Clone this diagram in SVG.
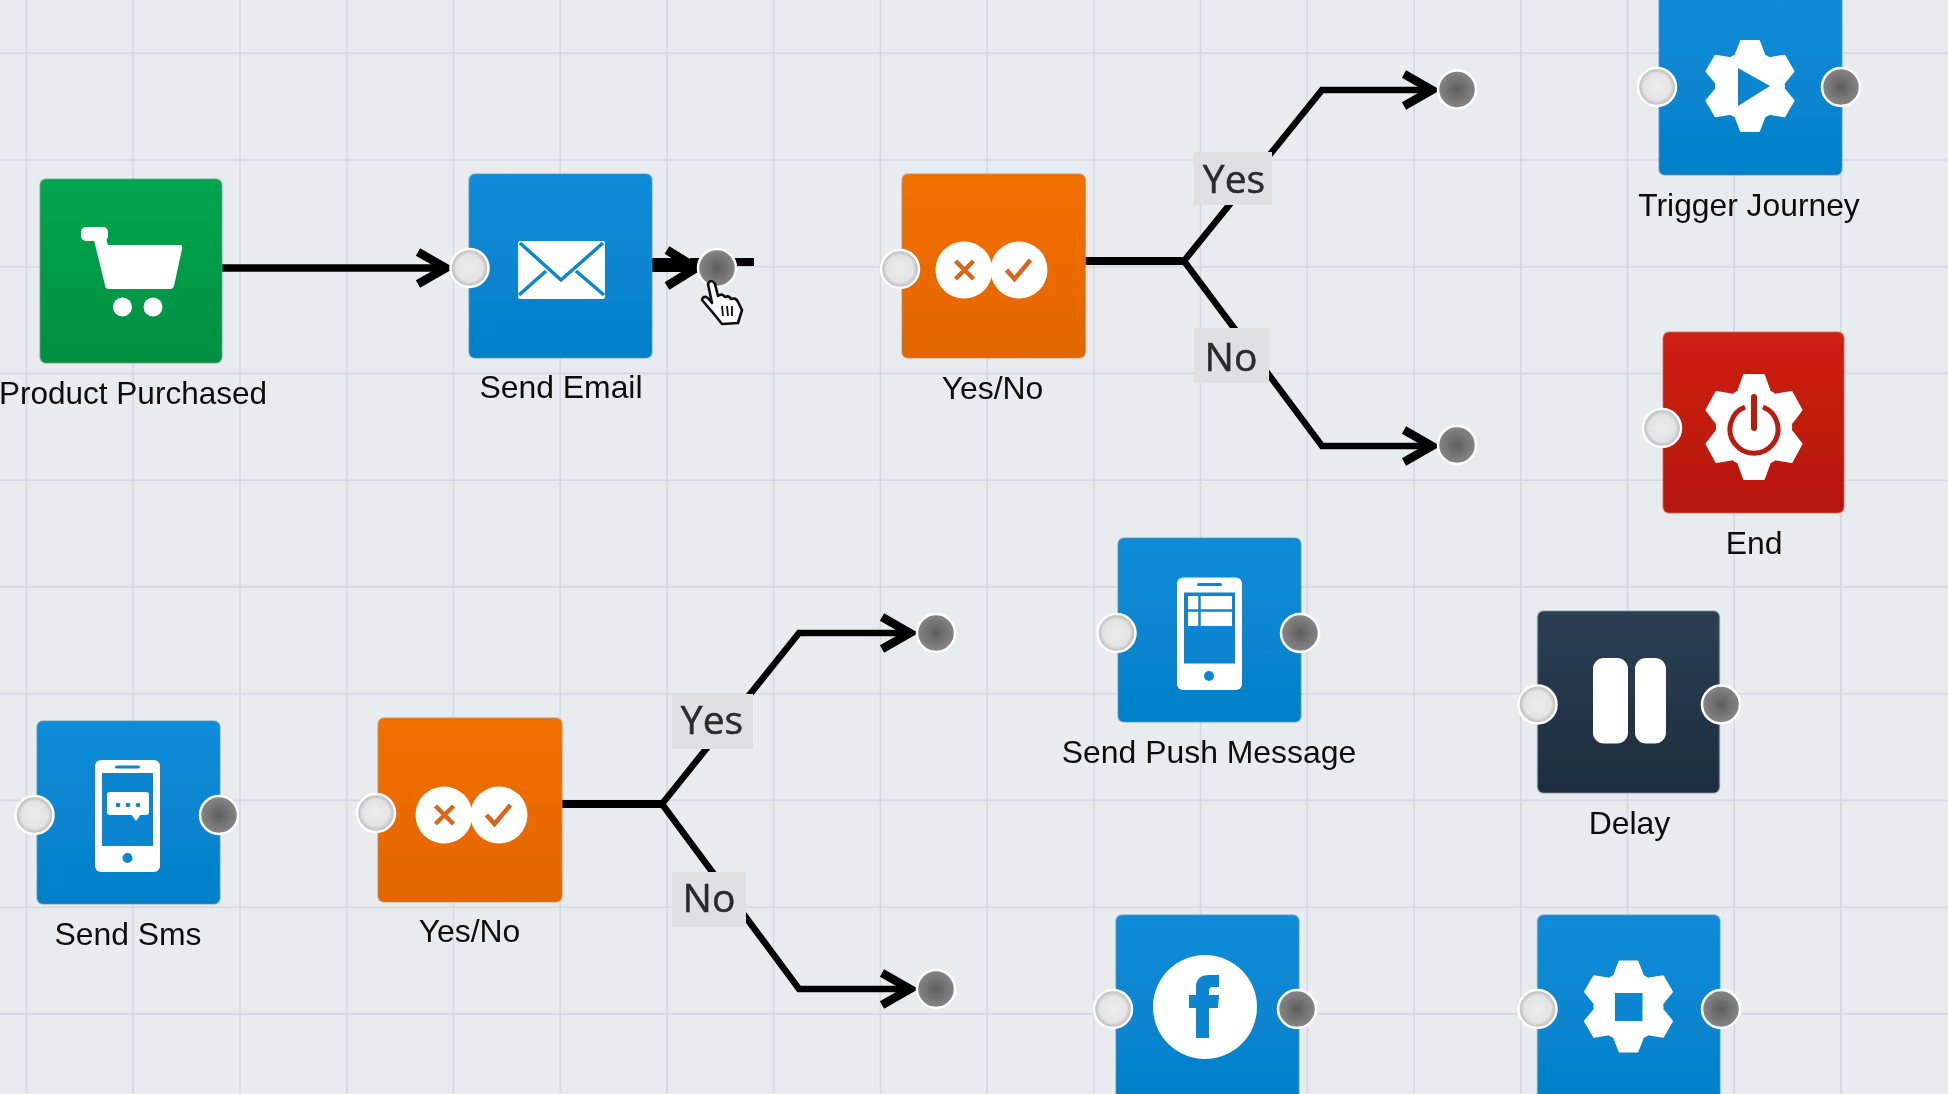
<svg xmlns="http://www.w3.org/2000/svg" xmlns:xlink="http://www.w3.org/1999/xlink" width="1948" height="1094" viewBox="0 0 1948 1094">
<style>
.grid line{stroke:#d6d7e0;stroke-width:1.6}
.card{stroke-width:1.5;stroke-opacity:.55}
.blue{fill:url(#gBlue);stroke:#5c92b8}
.green{fill:url(#gGreen);stroke:#6aa884}
.orange{fill:url(#gOrange);stroke:#b98a66}
.red{fill:url(#gRed);stroke:#d06a60}
.navy{fill:url(#gNavy);stroke:#7c8a99}
.in{fill:url(#gIn);stroke:#fff;stroke-width:2.5}
.out{fill:url(#gOut);stroke:#fff;stroke-width:2.5}
.lbl{font-family:"Liberation Sans",Arial,sans-serif;font-size:31.9px;fill:#0c0c0c;text-anchor:middle}
.tag{font-family:"Open Sans","Noto Sans",sans-serif;font-size:39px;fill:#2c2c2c;stroke:#2c2c2c;stroke-width:.5;text-anchor:middle}
.tagbox{fill:#dfe0e1}
.wire{fill:none;stroke:#050505;stroke-width:6.5;stroke-linejoin:miter}
.w{fill:#fff}
</style>
<defs>
<filter id="soft" x="0" y="0" width="100%" height="100%"><feGaussianBlur stdDeviation="0.6"/></filter>
<linearGradient id="gBlue" x1="0" y1="0" x2="0" y2="1"><stop offset="0" stop-color="#0a8cd9"/><stop offset="1" stop-color="#0580c8"/></linearGradient>
<linearGradient id="gGreen" x1="0" y1="0" x2="0" y2="1"><stop offset="0" stop-color="#05a64e"/><stop offset="1" stop-color="#019041"/></linearGradient>
<linearGradient id="gOrange" x1="0" y1="0" x2="0" y2="1"><stop offset="0" stop-color="#f37000"/><stop offset="1" stop-color="#e26600"/></linearGradient>
<linearGradient id="gRed" x1="0" y1="0" x2="0" y2="1"><stop offset="0" stop-color="#cf2012"/><stop offset="1" stop-color="#b5170f"/></linearGradient>
<linearGradient id="gNavy" x1="0" y1="0" x2="0" y2="1"><stop offset="0" stop-color="#2b3f54"/><stop offset="1" stop-color="#1d2e3e"/></linearGradient>
<radialGradient id="gIn"><stop offset="0" stop-color="#ececec"/><stop offset=".7" stop-color="#e4e4e4"/><stop offset="1" stop-color="#b4b4b4"/></radialGradient>
<radialGradient id="gOut"><stop offset="0" stop-color="#5e5e5e"/><stop offset="1" stop-color="#878787"/></radialGradient>
<marker id="arrow" markerUnits="userSpaceOnUse" markerWidth="44" markerHeight="48" viewBox="-36 -24 44 48" refX="0" refY="0" orient="auto">
<path d="M-29,-16 L-1,0 L-29,16" fill="none" stroke="#050505" stroke-width="8.5"/>
</marker>
<path id="tooth" d="M-14,-32 L-9,-45 L9,-45 L14,-32 Z" fill="#fff" stroke="#fff" stroke-width="2" stroke-linejoin="round"/>
<g id="gear">
<circle r="35" fill="#fff"/>
<use href="#tooth"/><use href="#tooth" transform="rotate(60)"/><use href="#tooth" transform="rotate(120)"/>
<use href="#tooth" transform="rotate(180)"/><use href="#tooth" transform="rotate(240)"/><use href="#tooth" transform="rotate(300)"/>
</g>
<g id="yesno">
<circle cx="-27.5" r="28.5" fill="#fff"/><circle cx="27.5" r="28.5" fill="#fff"/>
<path d="M-36,-9 L-18,9 M-18,-9 L-36,9" fill="none" stroke="#d9661a" stroke-width="4.5"/>
<path d="M15,0 L23,9 L39,-10" fill="none" stroke="#d9661a" stroke-width="4.5"/>
</g>
</defs>
<rect width="1948" height="1094" fill="#e9ecee"/>
<g filter="url(#soft)">
<g class="grid">
<line x1="26.5" y1="0" x2="26.5" y2="1094"/><line x1="133.2" y1="0" x2="133.2" y2="1094"/><line x1="240" y1="0" x2="240" y2="1094"/><line x1="346.7" y1="0" x2="346.7" y2="1094"/><line x1="453.4" y1="0" x2="453.4" y2="1094"/><line x1="560.2" y1="0" x2="560.2" y2="1094"/><line x1="666.9" y1="0" x2="666.9" y2="1094"/><line x1="773.6" y1="0" x2="773.6" y2="1094"/><line x1="880.4" y1="0" x2="880.4" y2="1094"/><line x1="987.1" y1="0" x2="987.1" y2="1094"/><line x1="1093.8" y1="0" x2="1093.8" y2="1094"/><line x1="1200.5" y1="0" x2="1200.5" y2="1094"/><line x1="1307.3" y1="0" x2="1307.3" y2="1094"/><line x1="1414" y1="0" x2="1414" y2="1094"/><line x1="1520.7" y1="0" x2="1520.7" y2="1094"/><line x1="1627.5" y1="0" x2="1627.5" y2="1094"/><line x1="1734.2" y1="0" x2="1734.2" y2="1094"/><line x1="1840.9" y1="0" x2="1840.9" y2="1094"/>
<line x1="0" y1="53.2" x2="1948" y2="53.2"/><line x1="0" y1="160" x2="1948" y2="160"/><line x1="0" y1="266.7" x2="1948" y2="266.7"/><line x1="0" y1="373.4" x2="1948" y2="373.4"/><line x1="0" y1="480.2" x2="1948" y2="480.2"/><line x1="0" y1="586.9" x2="1948" y2="586.9"/><line x1="0" y1="693.7" x2="1948" y2="693.7"/><line x1="0" y1="800.4" x2="1948" y2="800.4"/><line x1="0" y1="907.2" x2="1948" y2="907.2"/><line x1="0" y1="1013.9" x2="1948" y2="1013.9"/>
</g>
<g id="connectors">
<path class="wire" style="stroke-width:7.5" d="M222,268 L447,268" marker-end="url(#arrow)"/>
<path class="wire" style="stroke-width:8" d="M690,262 L754,262"/>
<path class="wire" style="stroke-width:14" d="M652,265 L688,265"/>
<path d="M667,250 L696,268 L667,286" fill="none" stroke="#050505" stroke-width="9"/>
<path class="wire" style="stroke-width:8" d="M1085,261 L1184,261"/>
<path class="wire" d="M1184,261 L1322,90 L1433,90" marker-end="url(#arrow)"/>
<path class="wire" d="M1184,261 L1322,446 L1433,446" marker-end="url(#arrow)"/>
<path class="wire" style="stroke-width:8" d="M562,804 L662,804"/>
<path class="wire" d="M662,804 L799,633 L911,633" marker-end="url(#arrow)"/>
<path class="wire" d="M662,804 L799,989 L911,989" marker-end="url(#arrow)"/>
<g id="tag-yes-1"><rect class="tagbox" x="1194" y="152" width="78" height="53"/><text class="tag" x="1234" y="193">Yes</text></g>
<g id="tag-no-1"><rect class="tagbox" x="1194" y="328" width="75" height="55"/><text class="tag" x="1231" y="371">No</text></g>
<g id="tag-yes-2"><rect class="tagbox" x="672" y="694" width="81" height="55"/><text class="tag" x="712" y="734">Yes</text></g>
<g id="tag-no-2"><rect class="tagbox" x="672" y="872" width="74" height="55"/><text class="tag" x="709" y="912">No</text></g>
</g>
<g id="product-purchased">
<rect class="card green" x="40" y="179" width="182" height="184" rx="6"/>
<rect class="w" x="81" y="227" width="27" height="14" rx="5"/>
<path class="w" d="M92,232 L104,232 L108,245 L180,245 Q183,245 182,249 L174,286 Q173,289 170,289 L109,289 Q105,289 105,285 Z"/>
<circle class="w" cx="122.5" cy="307" r="9.5"/><circle class="w" cx="153" cy="307" r="9.5"/>
<text class="lbl" x="133" y="404" style="font-size:31.500px">Product Purchased</text>
</g>
<g id="send-email">
<rect class="card blue" x="469" y="174" width="183" height="184" rx="6"/>
<rect class="w" x="518" y="241" width="87" height="58" rx="2"/>
<path d="M520,243 L561,280 L603,243 M519,295 L546,271 M604,295 L576,271" fill="none" stroke="#0886d2" stroke-width="3.5"/>
<circle class="in" cx="469.5" cy="268" r="19"/>
<circle class="out" cx="717" cy="268" r="19"/>
<text class="lbl" x="561" y="398">Send Email</text>
</g>
<g id="cursor" transform="translate(0,-2)">
<path d="M708,286 Q711,280 715,286 L718,298 Q722,295 725,299 Q729,297 731,301 Q736,299 738,304 L742,312 L738,325 L722,326 L714,316 L702,302 Q703,297 708,300 L712,305 Z" fill="#fff" stroke="#111" stroke-width="2.6" stroke-linejoin="round"/>
<path d="M722,308 L723,318 M727,308 L728,318 M732,308 L732,318" stroke="#111" stroke-width="1.8" fill="none"/>
</g>
<g id="yes-no-1">
<rect class="card orange" x="902" y="174" width="183.500" height="184" rx="6"/>
<use href="#yesno" x="991.500" y="270"/>
<circle class="in" cx="900" cy="269" r="19"/>
<circle class="out" cx="1457" cy="89.500" r="19"/>
<circle class="out" cx="1457" cy="445" r="19"/>
<text class="lbl" x="992.500" y="399">Yes/No</text>
</g>
<g id="trigger-journey">
<rect class="card blue" x="1659" y="-9" width="183" height="184" rx="6"/>
<use href="#gear" x="1750" y="86"/>
<path d="M1738,68 L1770,86 L1738,106 Z" fill="#0886d2"/>
<circle class="in" cx="1657" cy="87" r="19"/>
<circle class="out" cx="1841" cy="87" r="19"/>
<text class="lbl" x="1749" y="216" style="font-size:31.800px">Trigger Journey</text>
</g>
<g id="end">
<rect class="card red" x="1663" y="332" width="181" height="181" rx="6"/>
<use href="#gear" transform="translate(1754,427) scale(1.09,1.15)"/>
<path d="M1745,407 A24,24 0 1 0 1763,407" fill="none" stroke="#b81a10" stroke-width="5"/>
<path d="M1754,397 L1754,428" stroke="#b81a10" stroke-width="6" stroke-linecap="round"/>
<circle class="in" cx="1662" cy="428" r="19"/>
<text class="lbl" x="1754" y="554">End</text>
</g>
<g id="send-push-message">
<rect class="card blue" x="1118" y="538" width="183" height="184" rx="6"/>
<rect class="w" x="1177" y="577.500" width="65" height="112.500" rx="6"/>
<rect x="1184" y="592.500" width="51" height="71" fill="#0886d2"/>
<rect class="w" x="1188" y="596" width="44" height="30"/>
<path d="M1199.500,596 L1199.500,626 M1188,610.500 L1232,610.500" stroke="#0886d2" stroke-width="2.500"/>
<rect x="1197" y="583" width="25" height="3" rx="1.500" fill="#0886d2"/>
<circle cx="1209" cy="676" r="5" fill="#0886d2"/>
<circle class="in" cx="1116.500" cy="633" r="19"/>
<circle class="out" cx="1300" cy="633" r="19"/>
<text class="lbl" x="1209" y="763">Send Push Message</text>
</g>
<g id="delay">
<rect class="card navy" x="1537.500" y="611" width="182" height="182" rx="6"/>
<rect class="w" x="1593" y="658" width="35" height="85.500" rx="11"/>
<rect class="w" x="1635" y="658" width="31" height="85.500" rx="11"/>
<circle class="in" cx="1537.500" cy="704.500" r="19"/>
<circle class="out" cx="1721" cy="704.500" r="19"/>
<text class="lbl" x="1629.500" y="834">Delay</text>
</g>
<g id="send-sms">
<rect class="card blue" x="37" y="721" width="183" height="183" rx="6"/>
<rect class="w" x="95" y="760" width="65" height="112" rx="6"/>
<rect x="102" y="773" width="51" height="73" fill="#0886d2"/>
<rect x="115" y="765.500" width="25" height="3" rx="1.500" fill="#0886d2"/>
<circle cx="127.500" cy="858" r="5" fill="#0886d2"/>
<rect class="w" x="107" y="792" width="42" height="23" rx="3"/>
<path class="w" d="M131,814 L141,814 L136,821 Z"/>
<circle cx="118" cy="805" r="2.300" fill="#0886d2"/><circle cx="128" cy="805" r="2.300" fill="#0886d2"/><circle cx="138" cy="805" r="2.300" fill="#0886d2"/>
<circle class="in" cx="34.500" cy="815" r="19"/>
<circle class="out" cx="219" cy="815" r="19"/>
<text class="lbl" x="128" y="945">Send Sms</text>
</g>
<g id="yes-no-2">
<rect class="card orange" x="378" y="718" width="184" height="184" rx="6"/>
<use href="#yesno" x="471.500" y="815"/>
<circle class="in" cx="376" cy="813" r="19"/>
<circle class="out" cx="936" cy="633" r="19"/>
<circle class="out" cx="936" cy="989" r="19"/>
<text class="lbl" x="469.500" y="942">Yes/No</text>
</g>
<g id="facebook">
<rect class="card blue" x="1116" y="915" width="183" height="190" rx="6"/>
<circle class="w" cx="1205" cy="1007" r="52"/>
<path d="M1196,1038 L1196,1008 L1189,1008 L1189,995 L1196,995 L1196,987 Q1196,975 1209,975 L1219,975 L1219,987 L1213,987 Q1209,987 1209,991 L1209,995 L1219,995 L1218,1008 L1209,1008 L1209,1038 Z" fill="#0886d2"/>
<circle class="in" cx="1113" cy="1009" r="19"/>
<circle class="out" cx="1297" cy="1009" r="19"/>
</g>
<g id="stop-journey">
<rect class="card blue" x="1537.500" y="915" width="182.500" height="190" rx="6"/>
<use href="#gear" x="1628.500" y="1006.500"/>
<rect x="1615" y="993" width="27.500" height="28" fill="#0886d2"/>
<circle class="in" cx="1537.500" cy="1009" r="19"/>
<circle class="out" cx="1721" cy="1009" r="19"/>
</g>
</g>
</svg>
